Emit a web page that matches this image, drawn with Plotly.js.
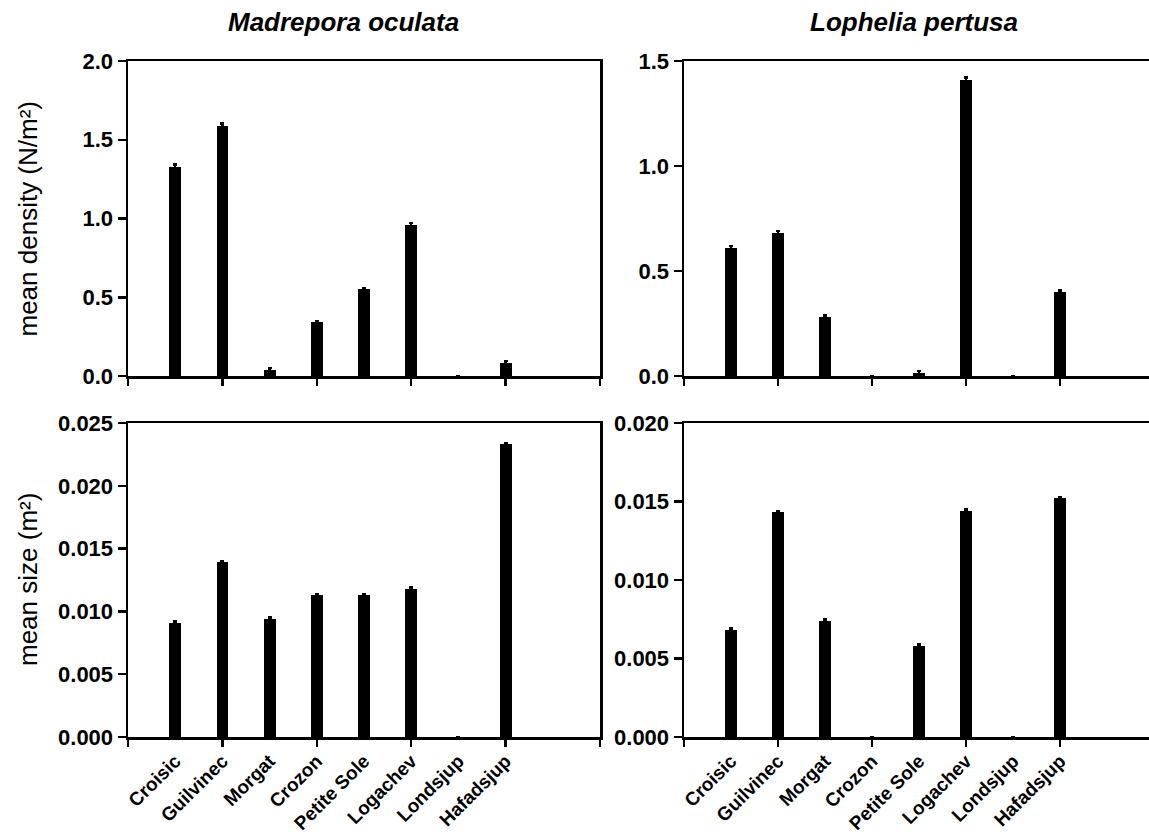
<!DOCTYPE html>
<html>
<head>
<meta charset="utf-8">
<script src="https://cdn.plot.ly/plotly-3.0.1.min.js"></script>
<style>html,body{margin:0;padding:0;background:#fff;}#chart{width:1149px;height:834px;}</style>
</head>
<body>
<div id="chart"></div>
<script>
const categories = ['Croisic','Guilvinec','Morgat','Crozon','Petite Sole','Logachev','Londsjup','Hafadsjup'];

const madreporaDensity = [1.33, 1.59, 0.04, 0.34, 0.55, 0.96, 0, 0.085];
const madreporaDensityErr = [0.012, 0.012, 0.01, 0.008, 0.008, 0.01, 0, 0.01];
const lopheliaDensity = [0.61, 0.68, 0.28, 0, 0.015, 1.41, 0, 0.40];
const lopheliaDensityErr = [0.01, 0.01, 0.008, 0, 0.008, 0.012, 0, 0.008];

const madreporaSize = [0.0091, 0.0139, 0.0094, 0.0113, 0.0113, 0.0118, 0, 0.0233];
const madreporaSizeErr = [0.0001, 0.0001, 0.0001, 0.0001, 0.0001, 0.0001, 0, 0.0001];
const lopheliaSize = [0.0068, 0.0143, 0.0074, 0, 0.0058, 0.0144, 0, 0.0152];
const lopheliaSizeErr = [0.0001, 0.0001, 0.0001, 0, 0.0001, 0.0001, 0, 0.0001];

const densityTicksM = [0, 0.5, 1.0, 1.5, 2.0];
const densityTicksL = [0, 0.5, 1.0, 1.5];
const sizeTicksM = [0, 0.005, 0.010, 0.015, 0.020, 0.025];
const sizeTicksL = [0, 0.005, 0.010, 0.015, 0.020];

const speciesTitles = ['Madrepora oculata', 'Lophelia pertusa'];
const yTitles = ['mean density (N/m²)', 'mean size (m²)'];

const FONT = 'Liberation Sans, Arial, Helvetica, sans-serif';
const W = 1149, H = 834;

function bar(y, err, xa, ya) {
  return {
    type: 'bar', x: categories, y: y, xaxis: xa, yaxis: ya,
    width: 0.25, marker: {color: '#000', line: {width: 0}},
    error_y: {type: 'data', array: err, visible: true, color: '#000', thickness: 2.5, width: 2},
    showlegend: false, hoverinfo: 'x+y'
  };
}
function dummy(xa, ya) {
  return {type: 'scatter', x: [], y: [], xaxis: xa, yaxis: ya, showlegend: false, hoverinfo: 'skip'};
}

const data = [
  bar(madreporaDensity, madreporaDensityErr, 'x', 'y'),
  bar(lopheliaDensity, lopheliaDensityErr, 'x2', 'y2'),
  bar(madreporaSize, madreporaSizeErr, 'x3', 'y3'),
  bar(lopheliaSize, lopheliaSizeErr, 'x4', 'y4'),
  dummy('x5', 'y'), dummy('x6', 'y2'), dummy('x7', 'y3'), dummy('x8', 'y4')
];

const xL = [128 / W, 600 / W];
const xR = [684 / W, 1];
const yT = [1 - 376 / H, 1 - 61 / H];
const yB = [1 - 737 / H, 1 - 423 / H];
const rangeL = [-1, 9];
const rangeR = [-1, 8.89];

function catAxis(domain, range, anchor, labels) {
  return {
    domain: domain, anchor: anchor, type: 'category', range: range,
    showline: true, linecolor: '#000', linewidth: 2.5, mirror: true,
    ticks: '', showticklabels: labels, tickangle: -45, ticklabelstandoff: 3,
    tickfont: {family: FONT, size: 19, color: '#000', weight: 'bold'},
    showgrid: false, zeroline: false, fixedrange: true
  };
}
function tickAxis(over, range, anchor, vals) {
  return {
    overlaying: over, anchor: anchor, range: range, type: 'linear',
    tickmode: 'array', tickvals: vals, ticks: 'outside', ticklen: 9, tickwidth: 2.5, tickcolor: '#000',
    showticklabels: false, showline: false, showgrid: false, zeroline: false, fixedrange: true
  };
}
function valAxis(domain, anchor, range, vals, fmt, mirror) {
  return {
    domain: domain, anchor: anchor, range: range, type: 'linear',
    tickmode: 'array', tickvals: vals, tickformat: fmt,
    ticks: 'outside', ticklen: 8, tickwidth: 2.5, tickcolor: '#000',
    showline: true, linecolor: '#000', linewidth: 2.5, mirror: mirror,
    tickfont: {family: FONT, size: 22, color: '#000', weight: 'bold'},
    showgrid: false, zeroline: false, fixedrange: true
  };
}

const layout = {
  width: W, height: H,
  margin: {l: 0, r: 0, t: 0, b: 0},
  paper_bgcolor: '#fff', plot_bgcolor: '#fff',
  font: {family: FONT, color: '#000'},
  bargap: 0,
  xaxis: catAxis(xL, rangeL, 'y', false),
  xaxis2: catAxis(xR, rangeR, 'y2', false),
  xaxis3: catAxis(xL, rangeL, 'y3', true),
  xaxis4: catAxis(xR, rangeR, 'y4', true),
  xaxis5: tickAxis('x', [0, 10], 'y', [0, 2, 4, 6, 8, 10]),
  xaxis6: tickAxis('x2', [0, 9.89], 'y2', [0, 2, 4, 6, 8]),
  xaxis7: tickAxis('x3', [0, 10], 'y3', [0, 2, 4, 6, 8, 10]),
  xaxis8: tickAxis('x4', [0, 9.89], 'y4', [0, 2, 4, 6, 8]),
  yaxis: valAxis(yT, 'x', [0, 2.0], densityTicksM, '.1f', true),
  yaxis2: valAxis(yT, 'x2', [0, 1.5], densityTicksL, '.1f', false),
  yaxis3: valAxis(yB, 'x3', [0, 0.025], sizeTicksM, '.3f', true),
  yaxis4: valAxis(yB, 'x4', [0, 0.020], sizeTicksL, '.3f', false),
  annotations: [
    {text: speciesTitles[0], xref: 'paper', yref: 'paper', x: 343 / W, y: 1 - 22 / H, xanchor: 'center', yanchor: 'middle', showarrow: false,
     font: {family: FONT, size: 26, weight: 'bold', style: 'italic', color: '#000'}},
    {text: speciesTitles[1], xref: 'paper', yref: 'paper', x: 914 / W, y: 1 - 22 / H, xanchor: 'center', yanchor: 'middle', showarrow: false,
     font: {family: FONT, size: 26, weight: 'bold', style: 'italic', color: '#000'}},
    {text: yTitles[0], xref: 'paper', yref: 'paper', x: 28 / W, y: (yT[0] + yT[1]) / 2, xanchor: 'center', yanchor: 'middle', textangle: -90, showarrow: false,
     font: {family: FONT, size: 26, color: '#000'}},
    {text: yTitles[1], xref: 'paper', yref: 'paper', x: 28 / W, y: (yB[0] + yB[1]) / 2, xanchor: 'center', yanchor: 'middle', textangle: -90, showarrow: false,
     font: {family: FONT, size: 26, color: '#000'}}
  ]
};

Plotly.newPlot('chart', data, layout, {displayModeBar: false, staticPlot: true});
</script>
</body>
</html>
